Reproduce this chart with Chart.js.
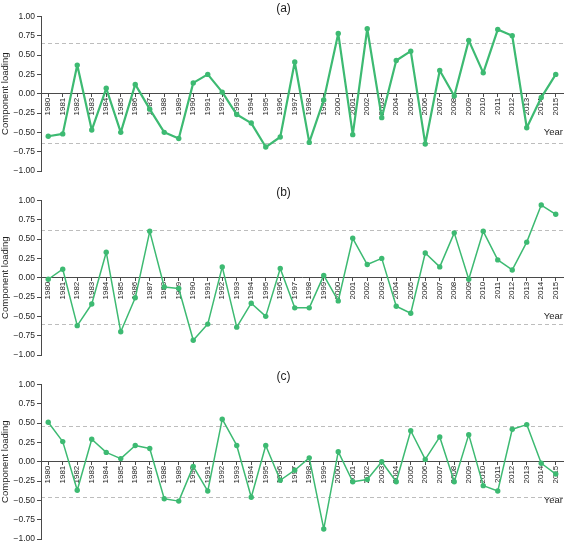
<!DOCTYPE html>
<html>
<head>
<meta charset="utf-8">
<script src="https://cdn.jsdelivr.net/npm/chart.js@4"></script>
<style>
  html, body { margin: 0; padding: 0; background: #fff; }
  body { width: 567px; height: 545px; position: relative; overflow: hidden; }
  .panel { position: absolute; left: 0; width: 567px; height: 180px; }
</style>
</head>
<body>
<div class="panel" style="top:0px"><canvas id="ca" width="567" height="180"></canvas></div>
<div class="panel" style="top:184px"><canvas id="cb" width="567" height="180"></canvas></div>
<div class="panel" style="top:368px"><canvas id="cc" width="567" height="180"></canvas></div>
<script>
const years = ['1980','1981','1982','1983','1984','1985','1986','1987','1988','1989',
  '1990','1991','1992','1993','1994','1995','1996','1997','1998','1999',
  '2000','2001','2002','2003','2004','2005','2006','2007','2008','2009',
  '2010','2011','2012','2013','2014','2015'];

const loadingA = [-0.55,-0.52,0.37,-0.47,0.07,-0.50,0.12,-0.20,-0.50,-0.58,
  0.14,0.25,0.02,-0.27,-0.38,-0.69,-0.56,0.41,-0.63,-0.08,
  0.78,-0.53,0.84,-0.31,0.43,0.55,-0.65,0.30,-0.03,0.69,
  0.27,0.83,0.75,-0.44,-0.05,0.25];

const loadingB = [-0.02,0.11,-0.62,-0.34,0.33,-0.70,-0.26,0.60,-0.12,-0.14,
  -0.81,-0.60,0.14,-0.64,-0.33,-0.50,0.12,-0.39,-0.39,0.03,
  -0.30,0.51,0.17,0.25,-0.37,-0.46,0.32,0.14,0.58,-0.02,
  0.60,0.23,0.10,0.46,0.94,0.82];

const loadingC = [0.51,0.26,-0.37,0.29,0.12,0.04,0.21,0.17,-0.48,-0.51,
  -0.06,-0.38,0.55,0.21,-0.46,0.21,-0.24,-0.11,0.05,-0.87,
  0.13,-0.26,-0.23,0.00,-0.26,0.40,0.03,0.32,-0.26,0.35,
  -0.31,-0.38,0.42,0.48,-0.02,-0.16];

const thresholdA = [-0.65, 0.65];
const thresholdB = [-0.61, 0.61];
const thresholdC = [-0.46, 0.46];

const yTicks = [-1.00,-0.75,-0.50,-0.25,0.00,0.25,0.50,0.75,1.00];

const panelTitles = ['(a)','(b)','(c)'];

const FONT = "'Liberation Sans', Arial, Helvetica, sans-serif";
const GREEN = '#3dba72';
const AXIS = '#4a4a4a';
const TEXT = '#1e1e1e';

function fmt(v) {
  const s = Math.abs(v).toFixed(2);
  return v < -1e-9 ? '\u2212' + s : s;
}

function makePanel(id, title, values, thresholds, lw) {
  new Chart(document.getElementById(id), {
    type: 'line',
    data: {
      labels: years,
      datasets: [{
        data: values,
        borderColor: GREEN,
        backgroundColor: GREEN,
        borderWidth: lw,
        borderJoinStyle: 'round',
        borderCapStyle: 'round',
        pointRadius: 2.7,
        pointBorderWidth: 0,
        pointBackgroundColor: GREEN,
        tension: 0,
        fill: false
      }]
    },
    options: {
      responsive: false,
      animation: false,
      devicePixelRatio: 1,
      layout: { padding: { left: 0, right: 0, top: 0, bottom: 9 } },
      plugins: {
        legend: { display: false },
        tooltip: { enabled: false },
        title: {
          display: true,
          text: title,
          color: TEXT,
          font: { family: FONT, size: 12, weight: 'normal' },
          padding: { top: 1, bottom: 1 }
        }
      },
      scales: {
        x: {
          type: 'category',
          position: { y: 0 },
          offset: true,
          grid: { display: true, drawOnChartArea: false, drawTicks: true, tickLength: 3, color: AXIS },
          border: { display: true, color: AXIS, width: 1 },
          ticks: {
            autoSkip: false,
            maxRotation: 90,
            minRotation: 90,
            padding: 1,
            color: TEXT,
            font: { family: FONT, size: 8 }
          },
          title: {
            display: true,
            text: 'Year',
            align: 'end',
            color: TEXT,
            font: { family: FONT, size: 9.5 },
            padding: { top: 10, bottom: 0 }
          }
        },
        y: {
          min: -1,
          max: 1,
          position: 'left',
          afterBuildTicks: (s) => { s.ticks = yTicks.map(v => ({ value: v })); },
          afterFit: (s) => { s.width = 41; },
          grid: { display: true, drawOnChartArea: false, drawTicks: true, tickLength: 4, color: AXIS },
          border: { display: true, color: AXIS, width: 1 },
          ticks: {
            padding: 2,
            color: TEXT,
            font: { family: FONT, size: 8.5 },
            callback: (v) => fmt(v)
          },
          title: {
            display: true,
            text: 'Component loading',
            color: TEXT,
            font: { family: FONT, size: 9.5 },
            padding: { top: 0, bottom: 0 }
          }
        },
        yRef: {
          min: -1,
          max: 1,
          position: 'right',
          afterBuildTicks: (s) => { s.ticks = thresholds.map(v => ({ value: v })); },
          afterFit: (s) => { s.width = 0; },
          grid: { display: true, drawOnChartArea: true, drawTicks: false, color: '#bdbdbd', lineWidth: 1 },
          border: { display: false, dash: [4, 3] },
          ticks: { display: false }
        }
      }
    }
  });
}

makePanel('ca', panelTitles[0], loadingA, thresholdA, 2.2);
makePanel('cb', panelTitles[1], loadingB, thresholdB, 1.5);
makePanel('cc', panelTitles[2], loadingC, thresholdC, 1.5);
</script>
</body>
</html>
